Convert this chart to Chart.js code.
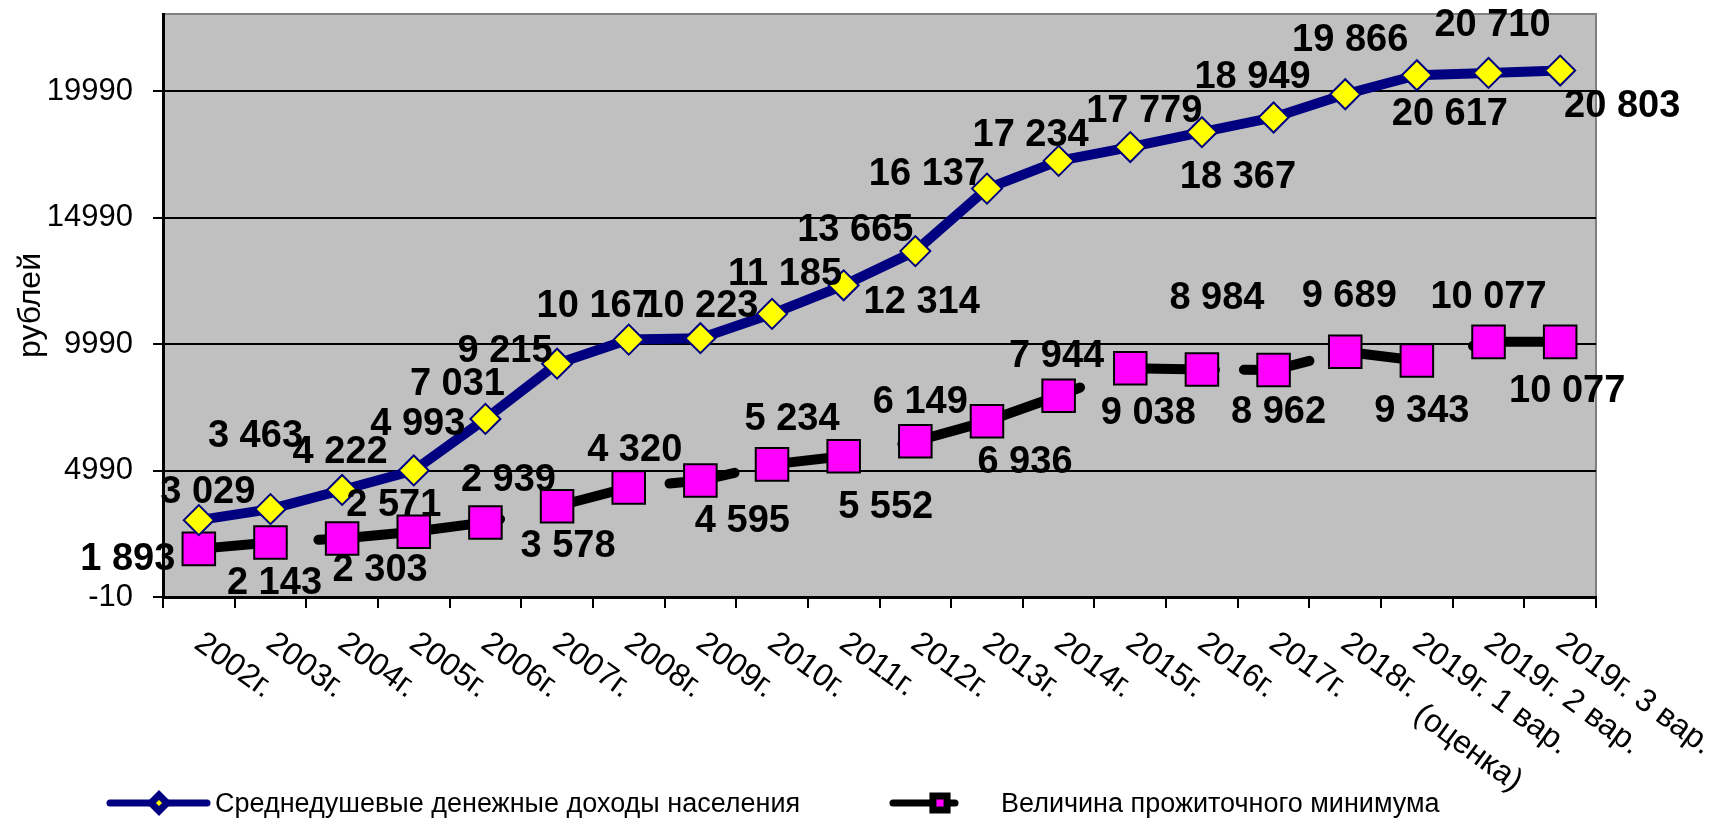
<!DOCTYPE html>
<html lang="ru">
<head>
<meta charset="utf-8">
<title>Доходы и прожиточный минимум</title>
<script src="https://cdn.jsdelivr.net/npm/chart.js@4.4.1/dist/chart.umd.min.js"></script>
<style>
  html, body { margin: 0; padding: 0; background: #fff; }
  canvas { display: block; }
</style>
</head>
<body>
<canvas id="myChart" width="1710" height="820"></canvas>
<script>
// данные с графика
const categories = [
  '2002г.', '2003г.', '2004г.', '2005г.', '2006г.', '2007г.', '2008г.', '2009г.',
  '2010г.', '2011г.', '2012г.', '2013г.', '2014г.', '2015г.', '2016г.', '2017г.',
  ['2018г.', '(оценка)'], '2019г. 1 вар.', '2019г. 2 вар.', '2019г. 3 вар.'
];
const incomeValues = [3029, 3463, 4222, 4993, 7031, 9215, 10167, 10223, 11185, 12314,
  13665, 16137, 17234, 17779, 18367, 18949, 19866, 20617, 20710, 20803];
const minimumValues = [1893, 2143, 2303, 2571, 2939, 3578, 4320, 4595, 5234, 5552,
  6149, 6936, 7944, 9038, 8984, 8962, 9689, 9343, 10077, 10077];
const yTicks = [-10, 4990, 9990, 14990, 19990];
const yTickLabels = ['-10', '4990', '9990', '14990', '19990'];

const FONT = '"Liberation Sans", Arial, sans-serif';

// где стоят подписи значений относительно точки (px)
const incomeLabelOffsets = [[9,-28],[-15,-73],[-2,-37],[4,-46],[-28,-34],[-52,-12],[-34,-33],[0,-32],
  [13,-39],[78,17],[-60,-21],[-60,-14],[-28,-25],[14,-36],[36,45],[-21,-40],[5,-54],[33,39],[4,-47],[62,36]];
const minimumLabelOffsets = [[-71,11],[4,41],[38,32],[-20,-26],[23,-42],[11,40],[6,-37],[42,41],
  [20,-45],[42,51],[5,-39],[38,41],[-2,-39],[18,45],[15,-71],[5,42],[4,-55],[5,51],[0,-44],[7,50]];

// разрывы чёрной линии (штрих по сегменту, индекс = начальная точка)
const minimumLineGaps = {
  1: [12, 36, 1000], 4: [15, 1000], 6: [11, 30, 1000], 7: [35, 1000], 9: [12, 48, 1000],
  12: [23, 1000], 14: [13, 29, 1000], 15: [37, 1000], 17: [11, 47, 1000]
};

function formatValue(v) {
  return String(v).replace(/\B(?=(\d{3})+(?!\d))/g, ' ');
}

const plotBackground = {
  id: 'plotBackground',
  beforeDraw(chart) {
    const { ctx, chartArea: a } = chart;
    ctx.save();
    ctx.fillStyle = '#c0c0c0';
    ctx.fillRect(a.left, a.top, a.width, a.height);
    ctx.strokeStyle = '#808080';
    ctx.lineWidth = 2;
    ctx.beginPath();
    ctx.moveTo(a.left, a.top);
    ctx.lineTo(a.right, a.top);
    ctx.lineTo(a.right, a.bottom);
    ctx.stroke();
    ctx.restore();
  }
};

const valueLabels = {
  id: 'valueLabels',
  afterDatasetsDraw(chart) {
    const ctx = chart.ctx;
    const offsets = [incomeLabelOffsets, minimumLabelOffsets];
    ctx.save();
    ctx.font = 'bold 38px ' + FONT;
    ctx.fillStyle = '#000';
    ctx.textAlign = 'center';
    ctx.textBaseline = 'middle';
    chart.data.datasets.forEach((ds, di) => {
      const meta = chart.getDatasetMeta(di);
      meta.data.forEach((pt, j) => {
        const o = offsets[di][j];
        ctx.fillText(formatValue(ds.data[j]), pt.x + o[0], pt.y + o[1]);
      });
    });
    ctx.restore();
  }
};

const slantedXLabels = {
  id: 'slantedXLabels',
  afterDraw(chart) {
    const ctx = chart.ctx;
    const xs = chart.scales.x;
    const angle = 36 * Math.PI / 180;
    ctx.save();
    ctx.font = '32px ' + FONT;
    ctx.fillStyle = '#000';
    ctx.textAlign = 'left';
    ctx.textBaseline = 'alphabetic';
    categories.forEach((lab, i) => {
      const lines = Array.isArray(lab) ? lab : [lab];
      ctx.save();
      ctx.translate(xs.getPixelForValue(i) - 6, xs.top + 50);
      ctx.rotate(angle);
      ctx.fillText(lines[0], 0, 0);
      if (lines[1]) ctx.fillText(lines[1], 101, 15);
      ctx.restore();
    });
    ctx.restore();
  }
};

const bottomLegend = {
  id: 'bottomLegend',
  afterDraw(chart) {
    const ctx = chart.ctx;
    const items = [
      { x0: 110, x1: 207, mx: 159, tx: 215, radius: 8, border: 1.5 },
      { x0: 893, x1: 955, mx: 940, tx: 1001, radius: 10, border: 2 }
    ];
    const y = 803;
    ctx.save();
    chart.data.datasets.forEach((ds, i) => {
      const it = items[i];
      ctx.strokeStyle = ds.borderColor;
      ctx.lineWidth = 7;
      ctx.lineCap = 'round';
      ctx.beginPath();
      ctx.moveTo(it.x0, y);
      ctx.lineTo(it.x1, y);
      ctx.stroke();
      ctx.fillStyle = ds.pointBackgroundColor;
      ctx.strokeStyle = ds.pointBorderColor;
      Chart.helpers.drawPoint(ctx, { pointStyle: ds.pointStyle, radius: it.radius, borderWidth: it.border, rotation: 0 }, it.mx, y);
      ctx.fillStyle = '#000';
      ctx.font = '27px ' + FONT;
      ctx.textAlign = 'left';
      ctx.textBaseline = 'middle';
      ctx.fillText(ds.label, it.tx, y + 2);
    });
    ctx.restore();
  }
};

const ctx = document.getElementById('myChart').getContext('2d');
new Chart(ctx, {
  type: 'line',
  data: {
    labels: categories,
    datasets: [{
      label: 'Среднедушевые денежные доходы населения',
      data: incomeValues,
      borderColor: '#000080',
      borderWidth: 10,
      borderCapStyle: 'round',
      borderJoinStyle: 'round',
      tension: 0,
      pointStyle: 'rectRot',
      pointRadius: 15,
      pointHoverRadius: 15,
      pointBackgroundColor: '#ffff00',
      pointBorderColor: '#000080',
      pointBorderWidth: 2
    }, {
      label: 'Величина прожиточного минимума',
      data: minimumValues,
      borderColor: '#000000',
      borderWidth: 10,
      borderCapStyle: 'round',
      borderJoinStyle: 'round',
      tension: 0,
      pointStyle: 'rect',
      pointRadius: 23,
      pointHoverRadius: 23,
      pointBackgroundColor: '#ff00ff',
      pointBorderColor: '#000000',
      pointBorderWidth: 2,
      segment: {
        borderDash: c => minimumLineGaps[c.p0DataIndex]
      }
    }]
  },
  options: {
    responsive: false,
    animation: false,
    devicePixelRatio: 1,
    layout: {
      autoPadding: false,
      padding: { left: 0, right: 114, top: 14, bottom: 0 }
    },
    scales: {
      x: {
        offset: true,
        grid: {
          offset: true,
          drawOnChartArea: false,
          drawTicks: true,
          tickLength: 11,
          color: '#000',
          lineWidth: 2
        },
        border: { display: true, color: '#000', width: 3 },
        ticks: { display: false },
        afterFit: s => { s.height = 223; s.paddingLeft = 0; s.paddingRight = 0; }
      },
      y: {
        min: -10,
        max: 23040,
        afterBuildTicks: s => { s.ticks = yTicks.map(v => ({ value: v })); },
        ticks: {
          padding: 20,
          color: '#000',
          font: { size: 31, family: FONT },
          callback: (v, i) => yTickLabels[i]
        },
        grid: { color: '#000', lineWidth: 2, tickLength: 10 },
        border: { display: true, color: '#000', width: 3 },
        title: {
          display: true,
          text: 'рублей',
          color: '#000',
          font: { size: 32, family: FONT },
          padding: { top: 12, bottom: 0 }
        },
        // фиксированная ширина оси и без лишнего отступа сверху
        afterFit: s => { s.width = 163; s.paddingTop = 0; s.paddingBottom = 0; }
      }
    },
    plugins: {
      legend: { display: false },
      tooltip: { enabled: false }
    }
  },
  plugins: [plotBackground, valueLabels, slantedXLabels, bottomLegend]
});
</script>
</body>
</html>
